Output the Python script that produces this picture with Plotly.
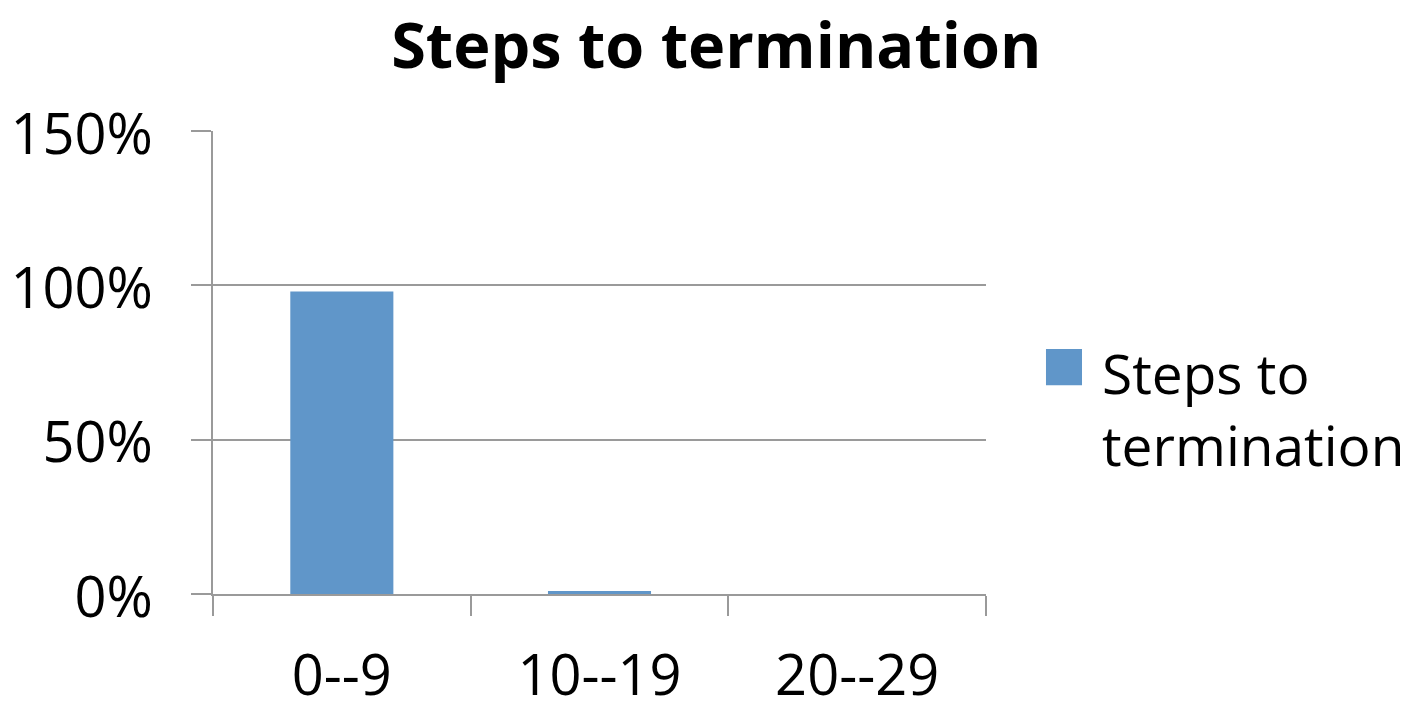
import plotly.graph_objects as go

# Share of runs by number of steps needed to terminate
categories = ["0--9", "10--19", "20--29"]
shares = [0.98, 0.01, 0.0]
y_ticks = [0, 0.5, 1.0, 1.5]
series_name = "Steps to termination"

BAR_COLOR = "#6096C9"
AXIS_GRAY = "#9A9A9A"
FONT = "Open Sans, Liberation Sans, sans-serif"

fig = go.Figure(
    go.Bar(
        x=categories,
        y=shares,
        name=series_name,
        marker=dict(color=BAR_COLOR, line=dict(width=0)),
        showlegend=False,
    )
)

fig.update_layout(
    width=1410,
    height=703,
    autosize=False,
    margin=dict(l=213, r=424, t=131, b=109),
    paper_bgcolor="white",
    plot_bgcolor="white",
    bargap=0.6,
    font=dict(family=FONT, size=56, color="black"),
    title=dict(
        text="<b>" + series_name + "</b>",
        x=0.508,
        xanchor="center",
        y=0.935,
        yanchor="middle",
        automargin=False,
        font=dict(family=FONT, size=63, color="black"),
    ),
)

fig.update_xaxes(
    type="category",
    range=[-0.5, 2.5],
    automargin=False,
    showline=True,
    linecolor=AXIS_GRAY,
    linewidth=2,
    ticks="outside",
    tickson="boundaries",
    ticklen=20,
    tickwidth=2,
    tickcolor=AXIS_GRAY,
    showgrid=False,
    ticklabelstandoff=32,
    tickfont=dict(size=56),
)

fig.update_yaxes(
    range=[0, 1.5],
    automargin=False,
    tickvals=y_ticks,
    tickformat=".0%",
    showline=True,
    linecolor=AXIS_GRAY,
    linewidth=2,
    ticks="outside",
    ticklen=20,
    tickwidth=2,
    tickcolor=AXIS_GRAY,
    showgrid=True,
    gridcolor=AXIS_GRAY,
    gridwidth=2,
    zeroline=False,
    ticklabelstandoff=27,
    ticklabelshift=3,
    tickfont=dict(size=56),
)

# Legend key: a swatch and the series name wrapped over two lines
fig.add_shape(
    type="rect",
    xref="paper",
    yref="paper",
    x0=1.0776,
    x1=1.1242,
    y0=0.451,
    y1=0.529,
    fillcolor=BAR_COLOR,
    line=dict(width=0),
)
fig.add_annotation(
    xref="paper",
    yref="paper",
    x=1.1475,
    y=0.40,
    xanchor="left",
    yanchor="middle",
    align="left",
    showarrow=False,
    text="Steps to<br>termination",
    font=dict(family=FONT, size=55, color="black"),
)

fig.write_html("out.html")
